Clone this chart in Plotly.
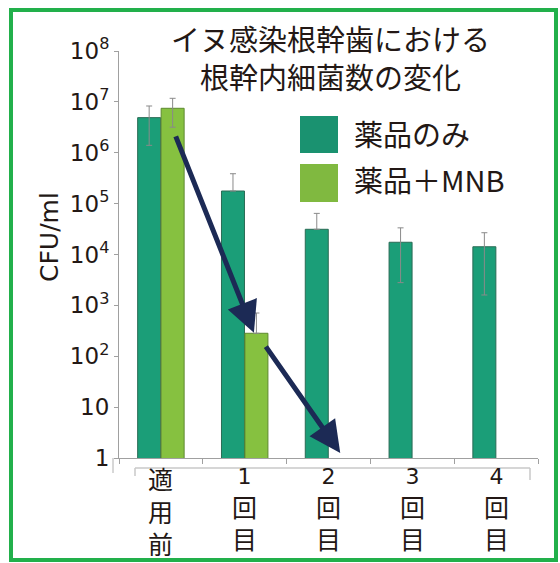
import plotly.graph_objects as go

# ---- data ----
categories = ["適用前", "1回目", "2回目", "3回目", "4回目"]
drug_only = [4.9e6, 1.77e5, 3.13e4, 1.74e4, 1.42e4]
drug_only_err_plus = [3.4e6, 2.1e5, 3.3e4, 1.6e4, 1.26e4]
drug_only_err_minus = [3.5e6, 0, 0, 1.46e4, 1.26e4]
drug_mnb = [7.48e6, 283, None, None, None]
drug_mnb_err_plus = [4.27e6, 425, None, None, None]
drug_mnb_err_minus = [4.3e6, 0, None, None, None]

y_tickvals = [1, 10, 100, 1e3, 1e4, 1e5, 1e6, 1e7, 1e8]
y_ticktext = ["1", "10", "10<sup>2</sup>", "10<sup>3</sup>", "10<sup>4</sup>",
              "10<sup>5</sup>", "10<sup>6</sup>", "10<sup>7</sup>", "10<sup>8</sup>"]

series_names = ["薬品のみ", "薬品＋MNB"]
title_text = "イヌ感染根幹歯における<br>根幹内細菌数の変化"
y_title = "CFU/ml"

# arrows: (tail x, tail log10 y, head x, head log10 y) in data coordinates
arrows = [(0.17, 6.35, 1.11, 2.46), (1.24, 2.22, 2.14, 0.10)]

DARK = "#1b9e78"
LIGHT = "#86c140"
TXT = "#231815"
FONT = "Noto Sans CJK JP"
NUMFONT = "DejaVu Sans"

fig = go.Figure()
fig.add_trace(go.Bar(
    x=categories, y=drug_only, name=series_names[0],
    marker=dict(color=DARK, line=dict(color="#2a6b55", width=1)),
    error_y=dict(type="data", symmetric=False, array=drug_only_err_plus,
                 arrayminus=drug_only_err_minus, color="#8a8a8a", thickness=1, width=3),
    showlegend=False,
))
fig.add_trace(go.Bar(
    x=categories, y=drug_mnb, name=series_names[1],
    marker=dict(color=LIGHT, line=dict(color="#5e8a30", width=1)),
    error_y=dict(type="data", symmetric=False, array=drug_mnb_err_plus,
                 arrayminus=drug_mnb_err_minus, color="#8a8a8a", thickness=1, width=3),
    showlegend=False,
))

W, H = 560, 563
L, R, T, B = 119, 22, 51, 105
pw, ph = W - L - R, H - T - B


def px(x):
    return (x - L) / pw


def py(y):
    return (H - B - y) / ph


shapes = [
    # outer green frame
    dict(type="rect", xref="paper", yref="paper", x0=px(11), x1=px(556), y0=py(560), y1=py(10),
         line=dict(color="#22b04b", width=4), fillcolor="rgba(0,0,0,0)", layer="below"),
    # floor line (3D effect)
    dict(type="line", xref="paper", yref="paper", x0=px(135), x1=px(530), y0=py(468), y1=py(468),
         line=dict(color="#c8c8c8", width=1.5)),
    dict(type="line", xref="paper", yref="paper", x0=px(135), x1=px(135), y0=py(468), y1=py(476),
         line=dict(color="#c8c8c8", width=1.5)),
    dict(type="line", xref="paper", yref="paper", x0=px(530), x1=px(530), y0=py(468), y1=py(480),
         line=dict(color="#c8c8c8", width=1.5)),
    dict(type="line", xref="paper", yref="paper", x0=px(113), x1=px(113), y0=py(458), y1=py(473),
         line=dict(color="#b0b0b0", width=1)),
    # legend squares
    dict(type="rect", xref="paper", yref="paper", x0=px(300), x1=px(338), y0=py(153), y1=py(116),
         fillcolor="#1a9270", line=dict(width=0)),
    dict(type="rect", xref="paper", yref="paper", x0=px(300), x1=px(338), y0=py(202), y1=py(164),
         fillcolor="#80b940", line=dict(width=0)),
]

annotations = [
    dict(text=title_text, xref="paper", yref="paper", x=px(330), y=py(57), showarrow=False,
         font=dict(size=29, color=TXT, family=FONT), xanchor="center", yanchor="middle"),
    dict(text=series_names[0], xref="paper", yref="paper", x=px(352), y=py(133), showarrow=False,
         font=dict(size=29, color=TXT, family=FONT), xanchor="left", yanchor="middle"),
    dict(text=series_names[1], xref="paper", yref="paper", x=px(352), y=py(179), showarrow=False,
         font=dict(size=29, color=TXT, family=FONT), xanchor="left", yanchor="middle"),
    dict(text=y_title, xref="paper", yref="paper", x=px(49), y=py(237), showarrow=False,
         textangle=-90, font=dict(size=25, color=TXT, family=NUMFONT), xanchor="center", yanchor="middle"),
]


def stacked(label):
    parts = []
    for ch in label:
        if ch.isdigit():
            parts.append("<span style='font-family:DejaVu Sans;font-size:22px'>" + ch + "</span>")
        else:
            parts.append(ch)
    return "<br>".join(parts)


# vertical (stacked) category labels under each group
for cat in categories:
    annotations.append(dict(
        text=stacked(cat), xref="x", yref="paper", x=cat, y=py(510),
        showarrow=False, xanchor="center", yanchor="middle", borderpad=0,
        font=dict(size=25, color=TXT, family=FONT),
    ))

for (tx, ty, hx, hy) in arrows:
    annotations.append(dict(
        x=hx, y=hy, ax=tx, ay=ty, xref="x", yref="y", axref="x", ayref="y",
        text="", showarrow=True, arrowhead=2, arrowsize=1.25, arrowwidth=5,
        arrowcolor="#1c2a55", standoff=0,
    ))

fig.update_layout(
    width=W, height=H,
    margin=dict(l=L, r=R, t=T, b=B, pad=0, autoexpand=False),
    paper_bgcolor="white", plot_bgcolor="white",
    barmode="group", bargap=0.44, bargroupgap=0.02,
    font=dict(family=FONT, color=TXT),
    shapes=shapes, annotations=annotations,
    xaxis=dict(
        range=[-0.5, 4.5], showline=True, linecolor="#a0a0a0", linewidth=1, automargin=False,
        ticks="outside", tickson="boundaries", ticklen=5, tickcolor="#a0a0a0",
        showticklabels=False, showgrid=False, zeroline=False,
    ),
    yaxis=dict(
        type="log", range=[0, 8], showline=True, linecolor="#a0a0a0", linewidth=1, automargin=False,
        tickvals=y_tickvals, ticktext=y_ticktext, ticks="outside", ticklen=4, tickcolor="#a0a0a0",
        tickfont=dict(size=23, color=TXT, family=NUMFONT), showgrid=False, zeroline=False,
    ),
)

fig.write_html("out.html", config={"displayModeBar": False},
               post_script="document.body.style.margin='0px';")
